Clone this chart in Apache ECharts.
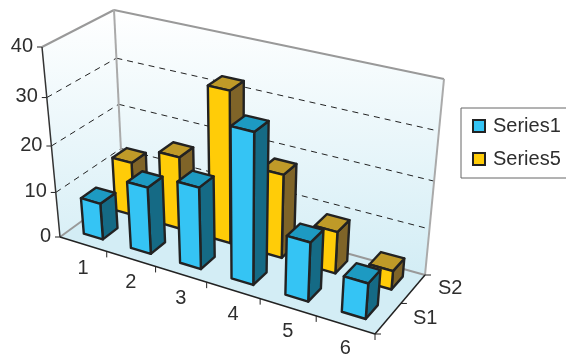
<!DOCTYPE html>
<html>
<head>
<meta charset="utf-8">
<style>html,body{margin:0;padding:0;background:#fff}#chart{width:566px;height:358px}</style>
<script src="https://cdn.jsdelivr.net/npm/echarts@6/dist/echarts.min.js"></script>
</head>
<body>
<div id="chart"></div>
<script>
// Chart content
const categories = ['1', '2', '3', '4', '5', '6'];
const depthLabels = ['S1', 'S2'];
const valueTicks = [0, 10, 20, 30, 40];
const series1 = [8, 14.5, 17.5, 31.5, 12.5, 7.5];
const series5 = [12, 16, 32.5, 18, 9, 4];

// Box corners on screen: floor and ceiling, front-left, front-right, back-right, back-left
const FLOOR_QUAD = [[60, 237], [375, 334], [425, 275], [123, 191]];
const CEIL_QUAD = [[42, 47], [391, 129], [444, 79], [114, 10]];
const HEIGHT_FORESHORTEN = 0.088;

// Maps the unit square onto a quadrilateral with a perspective transform
function quadMap(q) {
  const [p0, p1, p2, p3] = q;
  const dx1 = p1[0] - p2[0], dx2 = p3[0] - p2[0], sx = p0[0] - p1[0] + p2[0] - p3[0];
  const dy1 = p1[1] - p2[1], dy2 = p3[1] - p2[1], sy = p0[1] - p1[1] + p2[1] - p3[1];
  const det = dx1 * dy2 - dx2 * dy1;
  const a = (sx * dy2 - dx2 * sy) / det;
  const c = (dx1 * sy - sx * dy1) / det;
  return (u, z) => {
    const d = 1 + a * u + c * z;
    return [
      (p0[0] + u * (p1[0] - p0[0] + a * p1[0]) + z * (p3[0] - p0[0] + c * p3[0])) / d,
      (p0[1] + u * (p1[1] - p0[1] + a * p1[1]) + z * (p3[1] - p0[1] + c * p3[1])) / d
    ];
  };
}
const floorMap = quadMap(FLOOR_QUAD);
const ceilMap = quadMap(CEIL_QUAD);

function project(u, z, h) {
  const t = h / (1 + HEIGHT_FORESHORTEN * (1 - h));
  const b = floorMap(u, z), c = ceilMap(u, z);
  return [b[0] + (c[0] - b[0]) * t, b[1] + (c[1] - b[1]) * t];
}

// Grid coordinates (from the hidden axes) become fractions of the box
function boxPos(api, params, cat, value) {
  const p = api.coord([cat, value]);
  const g = params.coordSys;
  return [(p[0] - g.x) / g.width, (g.y + g.height - p[1]) / g.height];
}

const INK = '#222';
const TEXT = '#2e2e2e';
const FONT = '20px "Liberation Sans", Arial, sans-serif';
const FLOOR = '#d3edf5';
const BAR_WIDTH = 0.41;
const BAR_DEPTH = 0.23;
const ROW_SHIFT = 0.02;
const BAR_STROKE = 2.4;

function poly(points, fill, stroke, lineWidth) {
  return {
    type: 'polygon',
    shape: { points },
    style: { fill: fill || 'none', stroke: stroke || 'none', lineWidth: lineWidth || 0, lineJoin: 'round' }
  };
}
function line(a, b, stroke, lineWidth, dash) {
  return {
    type: 'line',
    shape: { x1: a[0], y1: a[1], x2: b[0], y2: b[1] },
    style: { stroke, lineWidth, lineDash: dash || null, fill: 'none' }
  };
}
function label(text, x, y, align) {
  return { type: 'text', style: { text, x, y, font: FONT, fill: TEXT, align: align || 'center', verticalAlign: 'middle' } };
}

function renderFrame(params, api) {
  const kids = [];
  const wallFill = new echarts.graphic.LinearGradient(0, 10, 0, 275, [
    { offset: 0, color: '#ffffff' }, { offset: 1, color: FLOOR }
  ], true);
  const c = {
    f0: project(0, 0, 0), f1: project(1, 0, 0), b0: project(0, 1, 0), b1: project(1, 1, 0),
    tf0: project(0, 0, 1), tb0: project(0, 1, 1), tb1: project(1, 1, 1)
  };
  kids.push(poly([c.f0, c.tf0, c.tb0, c.b0], wallFill));
  kids.push(poly([c.b0, c.tb0, c.tb1, c.b1], wallFill));
  kids.push(poly([c.f0, c.f1, c.b1, c.b0], FLOOR));

  valueTicks.forEach(v => {
    const h = boxPos(api, params, 0, v)[1];
    const l = project(0, 0, h), m = project(0, 1, h), r = project(1, 1, h);
    if (v > 0 && v < valueTicks[valueTicks.length - 1]) {
      kids.push(line(l, m, INK, 1, [6, 5]));
      kids.push(line(m, r, INK, 1, [6, 5]));
    }
    kids.push(line([l[0] - 5, l[1]], l, INK, 1));
    kids.push(label(String(v), l[0] - 9, l[1] - 1, 'right'));
  });

  kids.push(line(c.tf0, c.tb0, '#999', 2));
  kids.push(line(c.tb0, c.tb1, '#999', 2));
  kids.push(line(c.tb1, c.b1, '#aaa', 2));
  kids.push(line(c.tb0, c.b0, '#aaa', 2));
  kids.push(line(c.f0, c.b0, '#999', 2));
  kids.push(line(c.b0, c.b1, '#999', 2));
  kids.push(line(c.tf0, c.f0, '#333', 1.5));
  kids.push(line(c.f0, c.f1, INK, 1.5));
  kids.push(line(c.f1, c.b1, INK, 1.5));

  categories.forEach((name, i) => {
    const tick = project((i + 1) / categories.length, 0, 0);
    kids.push(line(tick, [tick[0], tick[1] + 6], INK, 1));
    const mid = project((i + 0.5) / categories.length, 0, 0);
    kids.push(label(name, mid[0], mid[1] + 24));
  });
  depthLabels.forEach((name, k) => {
    const tick = project(1, k / depthLabels.length, 0);
    kids.push(line(tick, [tick[0] + 6, tick[1]], INK, 1));
    const mid = project(1, (k + 0.5) / depthLabels.length, 0);
    kids.push(label(name, mid[0] + 37, mid[1]));
  });
  kids.push(line(c.b1, [c.b1[0] + 6, c.b1[1]], INK, 1));
  return { type: 'group', children: kids };
}

function barRenderer(row, front, top, side) {
  return function (params, api) {
    const cat = api.value(0);
    const g = params.coordSys;
    const h = boxPos(api, params, cat, api.value(1))[1];
    const uc = boxPos(api, params, cat, 0)[0];
    const half = api.size([1, 0])[0] / g.width * BAR_WIDTH / 2;
    const zc = (row + 0.5) / depthLabels.length + ROW_SHIFT;
    const u0 = uc - half, u1 = uc + half, z0 = zc - BAR_DEPTH / 2, z1 = zc + BAR_DEPTH / 2;
    const stroke = '#222';
    return {
      type: 'group',
      children: [
        poly([project(u1, z0, 0), project(u1, z1, 0), project(u1, z1, h), project(u1, z0, h)], side, stroke, BAR_STROKE),
        poly([project(u0, z0, h), project(u1, z0, h), project(u1, z1, h), project(u0, z1, h)], top, stroke, BAR_STROKE),
        poly([project(u0, z0, 0), project(u1, z0, 0), project(u1, z0, h), project(u0, z0, h)], front, stroke, BAR_STROKE)
      ]
    };
  };
}

function barSeries(name, values, row, front, top, side) {
  return {
    name,
    type: 'custom',
    coordinateSystem: 'cartesian2d',
    renderItem: barRenderer(row, front, top, side),
    itemStyle: { color: front, borderColor: '#222', borderWidth: 2 },
    data: values.map((v, i) => [i, v]),
    silent: true
  };
}

const chart = echarts.init(document.getElementById('chart'), null, { renderer: 'canvas' });
chart.setOption({
  animation: false,
  backgroundColor: '#fff',
  grid: { left: 0, right: 0, top: 0, bottom: 0 },
  xAxis: { type: 'category', data: categories, show: false },
  yAxis: { type: 'value', min: valueTicks[0], max: valueTicks[valueTicks.length - 1], show: false },
  legend: {
    orient: 'vertical',
    left: 461,
    top: 108,
    padding: [7, 8, 8, 11],
    itemWidth: 12,
    itemHeight: 12,
    itemGap: 11,
    backgroundColor: '#fff',
    borderColor: '#666',
    borderWidth: 1,
    icon: 'rect',
    selectedMode: false,
    textStyle: { fontFamily: '"Liberation Sans", Arial, sans-serif', fontSize: 20, color: TEXT, lineHeight: 22, padding: [0, 0, 0, 3] },
    data: ['Series1', 'Series5']
  },
  series: [
    { name: 'frame', type: 'custom', coordinateSystem: 'cartesian2d', renderItem: renderFrame, data: [[0, 0]], silent: true },
    barSeries('Series5', series5, 1, '#ffcc08', '#bf9a28', '#7f6428'),
    barSeries('Series1', series1, 0, '#35c4f4', '#1d9ac2', '#156a85')
  ]
});
</script>
</body>
</html>
